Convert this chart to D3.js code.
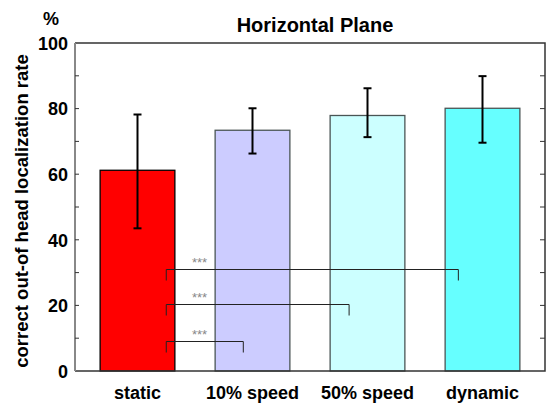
<!DOCTYPE html>
<html>
<head>
<meta charset="utf-8">
<script src="https://cdn.jsdelivr.net/npm/d3@7"></script>
<style>
  body { margin: 0; background: #fff; }
  svg { display: block; font-family: "Liberation Sans", Arial, sans-serif; }
</style>
</head>
<body>
<div id="chart"></div>
<script>
// values
var categories = ["static", "10% speed", "50% speed", "dynamic"];
var means      = [61.2, 73.4, 77.9, 80.1];
var errLow     = [43.5, 66.3, 71.3, 69.6];
var errHigh    = [78.2, 80.1, 86.2, 89.9];
var barColors  = ["#ff0000", "#ccccff", "#ccffff", "#66ffff"];
var yTicks     = [0, 20, 40, 60, 80, 100];

// significance brackets, x in category-index units
var brackets = [
  { from: 0.25, to: 0.92, y: 9.1,  label: "***" },
  { from: 0.25, to: 1.84, y: 20.3, label: "***" },
  { from: 0.25, to: 2.79, y: 31.0, label: "***" }
];
var starsAt = 0.54;

var width = 546,
    height = 406;
// plot box (note: "top" is taken by window.top)
var pLeft = 75, pRight = 545, pTop = 43, pBottom = 371;

var svg = d3.select("#chart")
    .append("svg")
    .attr("width", width)
    .attr("height", height);

var x = d3.scaleBand()
    .domain(categories)
    .range([80, 540])
    .paddingInner(0.35)
    .paddingOuter(0.175);

var y = d3.scaleLinear()
    .domain([0, 100])
    .range([pBottom, pTop]);

// index -> pixel, for the brackets
var xi = d3.scaleLinear()
    .domain([0, 1])
    .range([x(categories[0]) + x.bandwidth() / 2, x(categories[1]) + x.bandwidth() / 2]);

// bars
svg.selectAll(".bar")
    .data(categories)
    .enter()
    .append("rect")
    .attr("class", "bar")
    .attr("x", function(d) { return x(d); })
    .attr("width", x.bandwidth())
    .attr("y", function(d, i) { return y(means[i]); })
    .attr("height", function(d, i) { return y(0) - y(means[i]); })
    .attr("fill", function(d, i) { return barColors[i]; })
    .attr("stroke", function(d, i) { return i == 0 ? "#000" : "#4a5555"; })
    .attr("stroke-width", 1.3);

// error bars
var err = svg.selectAll(".err")
    .data(categories)
    .enter()
    .append("g")
    .attr("class", "err")
    .attr("stroke", "#000")
    .attr("stroke-width", 2);

err.append("line")
    .attr("x1", function(d) { return x(d) + x.bandwidth() / 2; })
    .attr("x2", function(d) { return x(d) + x.bandwidth() / 2; })
    .attr("y1", function(d, i) { return y(errLow[i]); })
    .attr("y2", function(d, i) { return y(errHigh[i]); });

[errLow, errHigh].forEach(function(arr) {
  err.append("line")
      .attr("x1", function(d) { return x(d) + x.bandwidth() / 2 - 4; })
      .attr("x2", function(d) { return x(d) + x.bandwidth() / 2 + 4; })
      .attr("y1", function(d, i) { return y(arr[i]); })
      .attr("y2", function(d, i) { return y(arr[i]); });
});

// brackets
var br = svg.selectAll(".bracket")
    .data(brackets)
    .enter()
    .append("g")
    .attr("class", "bracket");

br.append("path")
    .attr("fill", "none")
    .attr("stroke", "#222")
    .attr("stroke-width", 1)
    .attr("d", function(d) {
      var x0 = xi(d.from), x1 = xi(d.to), yy = Math.round(y(d.y)) + 0.5;
      return "M" + x0 + "," + (yy + 11) + "V" + yy + "H" + x1 + "V" + (yy + 11);
    });

br.append("text")
    .attr("x", xi(starsAt))
    .attr("y", function(d) { return y(d.y) - 2; })
    .attr("text-anchor", "middle")
    .attr("fill", "#888")
    .style("font-size", "13px")
    .text(function(d) { return d.label; });

// frame
svg.append("path")
    .attr("fill", "none")
    .attr("stroke", "#333")
    .attr("stroke-width", 1.5)
    .attr("d", "M" + pLeft + "," + pTop + "H" + pRight + "V" + pBottom + "H" + pLeft);

svg.append("line")
    .attr("x1", pLeft).attr("x2", pLeft)
    .attr("y1", pTop).attr("y2", pBottom)
    .attr("stroke", "#888")
    .attr("stroke-width", 2);

// inner ticks, every 10
var minor = d3.range(10, 100, 10);
svg.selectAll(".tl")
    .data(minor)
    .enter()
    .append("line")
    .attr("x1", pLeft).attr("x2", pLeft + 4)
    .attr("y1", function(d) { return y(d); })
    .attr("y2", function(d) { return y(d); })
    .attr("stroke", "#333");

svg.selectAll(".tr")
    .data(minor)
    .enter()
    .append("line")
    .attr("x1", pRight - 5).attr("x2", pRight)
    .attr("y1", function(d) { return y(d); })
    .attr("y2", function(d) { return y(d); })
    .attr("stroke", "#333");

// tick labels
svg.selectAll(".ylab")
    .data(yTicks)
    .enter()
    .append("text")
    .attr("x", 68)
    .attr("y", function(d) { return y(d); })
    .attr("dy", "0.38em")
    .attr("text-anchor", "end")
    .style("font-size", "18px")
    .style("font-weight", "bold")
    .text(function(d) { return d; });

svg.selectAll(".xlab")
    .data(categories)
    .enter()
    .append("text")
    .attr("x", function(d) { return x(d) + x.bandwidth() / 2; })
    .attr("y", 399)
    .attr("text-anchor", "middle")
    .style("font-size", "18px")
    .style("font-weight", "bold")
    .text(function(d) { return d; });

svg.append("text")
    .attr("x", 51)
    .attr("y", 25)
    .attr("text-anchor", "middle")
    .style("font-size", "18px")
    .style("font-weight", "bold")
    .text("%");

svg.append("text")
    .attr("x", 315)
    .attr("y", 32)
    .attr("text-anchor", "middle")
    .style("font-size", "20px")
    .style("font-weight", "bold")
    .text("Horizontal Plane");

svg.append("text")
    .attr("transform", "translate(28,211) rotate(-90)")
    .attr("text-anchor", "middle")
    .style("font-size", "18.5px")
    .style("font-weight", "bold")
    .text("correct out-of head localization rate");
</script>
</body>
</html>
